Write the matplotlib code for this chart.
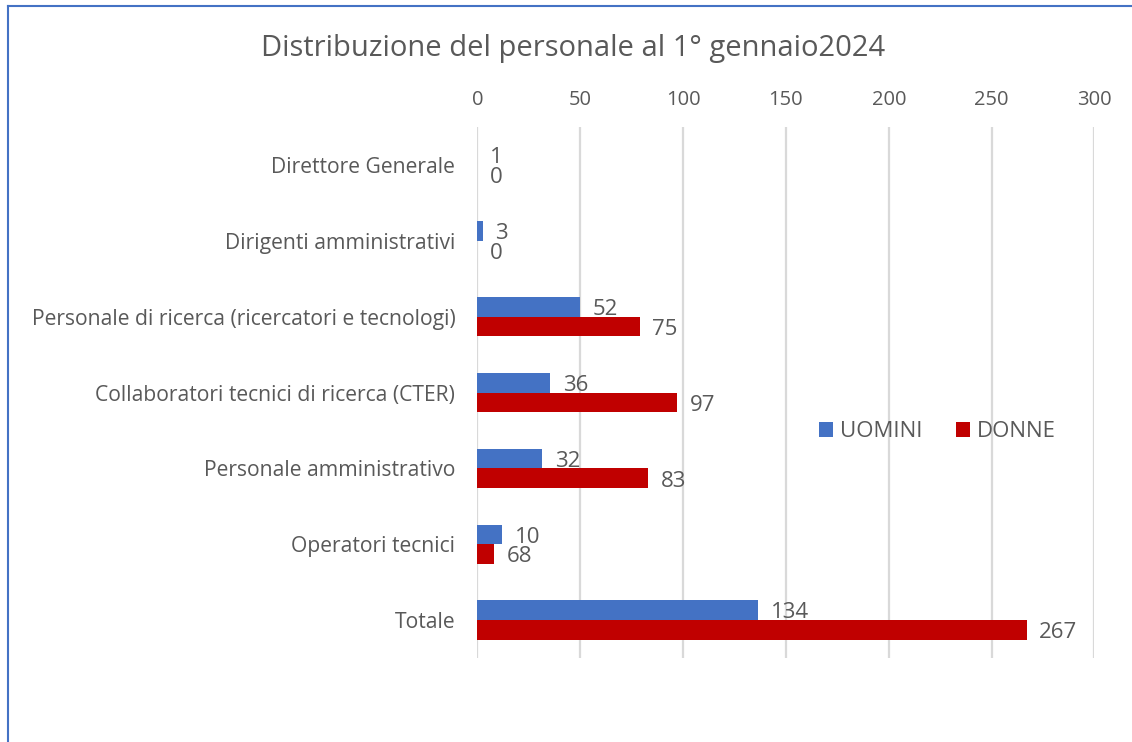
import matplotlib.pyplot as plt
from matplotlib.lines import Line2D
import numpy as np

plt.rcParams['font.family'] = ['Open Sans', 'DejaVu Sans']

categorie = ["Direttore Generale", "Dirigenti amministrativi",
             "Personale di ricerca (ricercatori e tecnologi)",
             "Collaboratori tecnici di ricerca (CTER)",
             "Personale amministrativo", "Operatori tecnici", "Totale"]
# bar lengths as drawn in the original, labels as written there
uomini = [0, 2.5, 50, 35.5, 31.5, 12, 136.5]
donne = [0, 0, 79, 97, 83, 8, 267]
uomini_lab = ["1", "3", "52", "36", "32", "10", "134"]
donne_lab = ["0", "0", "75", "97", "83", "68", "267"]
xticks = [0, 50, 100, 150, 200, 250, 300]

BLU = "#4472C4"
ROSSO = "#C00000"
GRIGIO = "#595959"

fig = plt.figure(figsize=(11.32, 7.42), dpi=100)
ax = fig.add_axes([0.4218, 0.1132, 0.545, 0.7156])

y = np.arange(len(categorie))
h = 0.26
ax.barh(y - h / 2, uomini, height=h, color=BLU, label="UOMINI", zorder=3)
ax.barh(y + h / 2, donne, height=h, color=ROSSO, label="DONNE", zorder=3)

for yi, v, t in zip(y, uomini, uomini_lab):
    ax.annotate(t, (v, yi - h / 2), xytext=(9, -2), textcoords="offset points",
                ha="left", va="center", fontsize=16, color=GRIGIO)
for yi, v, t in zip(y, donne, donne_lab):
    ax.annotate(t, (v, yi + h / 2), xytext=(9, -2), textcoords="offset points",
                ha="left", va="center", fontsize=16, color=GRIGIO)

ax.set_xlim(0, 300)
ax.set_ylim(len(categorie) - 0.5, -0.5)
ax.set_xticks(xticks)
ax.set_yticks(y)
ax.set_yticklabels(categorie)
ax.xaxis.tick_top()
ax.tick_params(axis="x", length=0, pad=12, labelsize=14.5, labelcolor=GRIGIO)
ax.tick_params(axis="y", length=0, pad=16, labelsize=15.2, labelcolor=GRIGIO)
ax.grid(axis="x", color="#D9D9D9", linewidth=1.6, zorder=0)
for s in ax.spines.values():
    s.set_visible(False)

ax.legend(loc="center", bbox_to_anchor=(0.746, 0.426), ncol=2, frameon=False,
          fontsize=16, labelcolor=GRIGIO, handlelength=0.6, handleheight=0.6,
          handletextpad=0.35, columnspacing=1.5)

fig.text(0.506, 0.934, "Distribuzione del personale al 1° gennaio2024",
         ha="center", va="center", fontsize=21, color=GRIGIO)

# border of the chart box
fig.add_artist(Line2D([0.0068, 0.0068], [0, 0.992], transform=fig.transFigure,
                      color=BLU, linewidth=1.5))
fig.add_artist(Line2D([0.0068, 1], [0.992, 0.992], transform=fig.transFigure,
                      color=BLU, linewidth=1.5))

fig.savefig("out.png", dpi=100)
